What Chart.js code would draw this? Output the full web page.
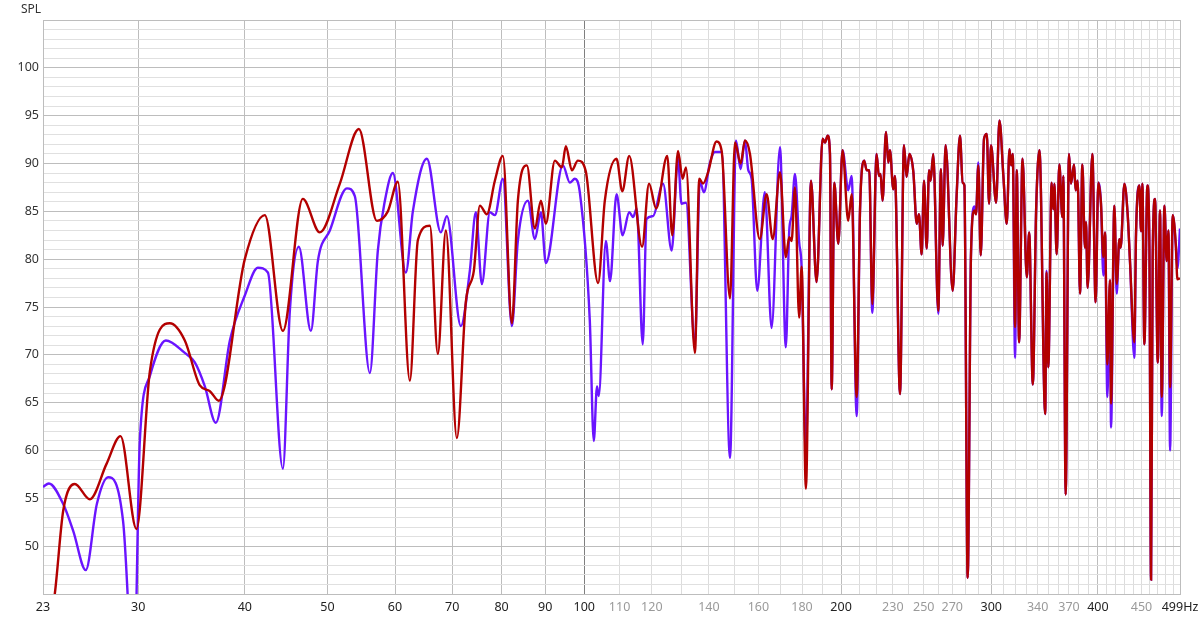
<!DOCTYPE html>
<html>
<head>
<meta charset="utf-8">
<script src="https://cdn.jsdelivr.net/npm/chart.js@4/dist/chart.umd.min.js"></script>
<style>
  html, body { margin: 0; padding: 0; background: #fff; }
  #wrap { width: 1200px; height: 619px; }
</style>
</head>
<body>
<div id="wrap"><canvas id="spl"></canvas></div>
<script>
// frequency axis (Hz)
const xMin = 23.2;
const xMax = 499.3;
const xGridValues = [30, 40, 50, 60, 70, 80, 90, 100, 110, 120, 130, 140, 150, 160, 170, 180, 190,
    200, 210, 220, 230, 240, 250, 260, 270, 280, 290, 300, 310, 320, 330, 340, 350, 360, 370, 380, 390,
    400, 410, 420, 430, 440, 450, 460, 470, 480, 490];
const xMainLabels = [30, 40, 50, 60, 70, 80, 90, 100, 200, 300, 400];
const xMinorLabels = [110, 120, 140, 160, 180, 230, 250, 270, 340, 370, 450];

// SPL axis (dB)
const yMin = 45;
const yMax = 105;
const yLabels = [50, 55, 60, 65, 70, 75, 80, 85, 90, 95, 100];

// red trace, below 170 Hz
const freqRedLow = [23.2, 23.95, 24.50, 25.28, 26.33, 27.54, 28.60, 29.86, 30.96, 32.67,
    34.02, 35.43, 36.40, 37.29, 40.00, 42.22, 44.33, 46.78, 48.98, 51.70,
    54.42, 57.13, 58.85, 60.46, 62.45, 63.82, 65.92, 67.35, 68.83, 70.90,
    72.65, 74.23, 75.44, 76.88, 78.56, 80.28, 82.25, 83.59, 85.65, 87.52,
    88.95, 90.15, 92.37, 94.13, 95.15, 96.71, 98.29, 100.4, 103.8, 105.7,
    109.1, 110.8, 112.9, 116.9, 119.1, 121.4, 125.1, 126.8, 128.8, 130.4,
    131.6, 134.8, 136.4, 137.8, 139.7, 142.9, 144.9, 148.2, 150.2, 152.5,
    154.3, 156.4, 160.6, 163.6, 166.3];
const splRedLow = [38, 45, 53.7, 56.5, 54.9, 58.6, 61.5, 51.8, 68.3, 73.3,
    71.5, 66.8, 66.2, 65.2, 80.0, 84.6, 72.5, 86.3, 82.8, 87.9,
    93.6, 84.0, 85.0, 88.1, 67.3, 82.0, 83.5, 70.1, 83.0, 61.3,
    75.6, 78.8, 85.6, 84.7, 88.2, 90.8, 73.3, 86.1, 89.8, 83.2,
    86.1, 83.7, 90.3, 89.6, 91.8, 89.3, 90.3, 89.2, 77.5, 86.1,
    90.5, 87.1, 90.8, 81.3, 87.9, 85.3, 90.8, 82.5, 91.3, 88.4,
    89.6, 70.2, 88.4, 87.9, 89.1, 92.3, 91.3, 75.9, 92.2, 90.0,
    92.4, 91.0, 82.1, 86.8, 82.1];

// purple trace, below 170 Hz
const freqPurpleLow = [23.2, 23.57, 24.50, 25.17, 26.04, 26.83, 27.66, 28.80, 29.66, 30.13,
    30.96, 32.32, 34.02, 34.95, 35.91, 36.99, 38.42, 40.00, 41.43, 42.57,
    44.33, 45.17, 46.28, 47.81, 48.72, 50.32, 52.69, 53.83, 56.06, 57.28,
    58.38, 59.65, 61.78, 62.96, 65.39, 67.90, 69.01, 71.67, 73.43, 74.63,
    75.85, 77.51, 78.56, 80.28, 82.25, 83.59, 85.88, 87.52, 88.95, 90.15,
    94.39, 96.19, 97.49, 98.8, 101.5, 102.6, 103.5, 104.0, 106.0, 107.2,
    109.1, 110.9, 112.9, 114.1, 115.2, 117.1, 118.3, 120.4, 123.7, 126.6,
    128.8, 130.0, 131.6, 134.8, 136.6, 138.1, 140.4, 142.3, 144.9, 148.2,
    150.6, 152.5, 154.3, 155.7, 157.1, 159.5, 162.8, 165.8];
const splPurpleLow = [56.2, 56.55, 54.4, 51.6, 47.5, 54.4, 57.2, 52.6, 36, 61,
    67.8, 71.5, 70.2, 69.2, 66.7, 62.9, 71.5, 76.2, 79.1, 78.6,
    58.1, 74.6, 81.3, 72.5, 79.8, 83.0, 87.4, 86.6, 68.1, 80.9,
    86.1, 89.0, 78.6, 85.0, 90.5, 82.8, 84.5, 73.0, 78.8, 84.9,
    77.4, 84.9, 84.6, 88.4, 73.0, 81.9, 86.1, 82.1, 84.9, 79.6,
    89.8, 88.0, 88.4, 87.0, 73.6, 61.0, 66.7, 65.7, 81.9, 77.7,
    86.8, 82.5, 84.9, 84.4, 85.3, 71.1, 84.2, 84.5, 87.9, 80.9,
    90.5, 85.8, 85.9, 71.1, 88.2, 87.0, 90.1, 91.2, 91.2, 59.2,
    92.4, 89.4, 92.4, 89.3, 88.4, 76.7, 87.0, 72.8];

// both traces above 170 Hz share the same frequencies
const freqHigh = [169.6, 172.3, 173.9, 175.0, 176.6, 178.6, 179.8, 181.9, 184.4, 187.2,
    190.3, 191.5, 192.9, 194.1, 195.0, 196.4, 198.5, 200.8, 203.9, 205.8,
    208.6, 210.5, 212.9, 214.3, 215.8, 217.6, 220.1, 221.5, 222.5, 223.7,
    225.8, 227.2, 228.2, 230.3, 231.3, 234.5, 237.0, 238.7, 240.5, 243.1,
    245.3, 246.8, 248.6, 250.2, 252.0, 253.6, 254.7, 256.5, 260.0, 261.9,
    263.1, 265.2, 270.3, 273.2, 275.7, 277.7, 279.0, 281.5, 284.0, 286.6,
    287.9, 289.7, 291.6, 294.2, 296.4, 298.2, 299.8, 303.9, 306.7, 310.0,
    312.8, 315.1, 316.5, 317.9, 319.9, 321.4, 323.4, 326.4, 330.2, 332.3,
    335.6, 338.6, 341.7, 347.0, 348.3, 349.9, 353.1, 354.7, 355.7, 357.9,
    360.5, 363.4, 364.4, 366.7, 370.0, 372.0, 375.1, 376.7, 378.8, 381.2,
    383.6, 386.3, 387.4, 389.1, 394.1, 397.6, 400.5, 403.4, 406.0, 407.8,
    410.4, 413.3, 414.5, 418.2, 420.9, 423.9, 425.4, 429.7, 433.5, 436.3,
    441.4, 443.4, 447.4, 449.5, 451.1, 453.5, 457.2, 459.7, 461.8, 463.8,
    466.8, 470.2, 473.1, 475.3, 478.7, 481.7, 483.9, 486.1, 489.6, 493.6,
    495.8, 499.3];
const splRedHigh = [89.1, 80.2, 82.3, 81.9, 87.5, 73.9, 79.2, 56.0, 88.2, 77.6,
    92.6, 92.2, 92.9, 91.0, 66.4, 88.0, 81.6, 91.4, 84.0, 86.8,
    65.6, 85.1, 90.3, 89.3, 89.3, 75.3, 91.0, 88.7, 88.9, 86.1,
    93.3, 90.1, 91.4, 87.3, 88.7, 65.9, 91.9, 88.6, 91.0, 89.1,
    83.7, 84.7, 80.5, 88.2, 81.1, 89.3, 88.2, 91.0, 74.6, 89.4,
    81.4, 91.9, 76.7, 86.6, 92.9, 88.0, 87.7, 46.7, 80.4, 85.1,
    84.7, 89.8, 80.4, 92.6, 93.1, 85.8, 91.9, 85.9, 94.5, 88.6,
    83.7, 91.5, 89.8, 91.0, 72.9, 89.3, 71.3, 90.5, 78.1, 82.8,
    66.9, 85.1, 91.4, 63.8, 78.6, 68.7, 88.0, 85.2, 87.9, 80.5,
    89.9, 84.4, 88.7, 55.4, 91.0, 87.9, 89.9, 87.2, 88.2, 76.4,
    89.9, 81.2, 83.9, 77.0, 91.0, 75.5, 88.0, 85.8, 80.2, 82.8,
    69.0, 77.8, 64.9, 85.6, 77.4, 82.1, 81.2, 87.9, 84.7, 79.7,
    71.3, 82.6, 87.7, 82.9, 87.9, 71.1, 87.7, 81.4, 46.5, 80.2,
    86.3, 69.2, 85.1, 65.6, 85.6, 79.8, 83.0, 66.6, 84.6, 81.6,
    77.9, 78.0];
const splPurpleHigh = [91.7, 70.8, 83.0, 84.5, 88.9, 81.8, 79.1, 60.0, 88.2, 77.6,
    92.6, 92.2, 92.9, 91.0, 66.4, 88.0, 81.6, 91.4, 87.2, 88.7,
    63.6, 85.1, 90.3, 89.3, 89.3, 74.4, 91.0, 88.7, 88.9, 86.1,
    93.3, 90.1, 91.4, 87.3, 88.7, 65.9, 91.9, 88.6, 91.0, 89.1,
    83.7, 84.7, 80.5, 88.2, 81.1, 89.3, 88.2, 91.0, 74.3, 89.4,
    81.4, 91.9, 76.7, 86.6, 92.9, 88.0, 87.7, 46.7, 80.4, 85.5,
    84.7, 90.1, 80.4, 92.6, 93.1, 85.8, 91.9, 85.9, 94.5, 88.6,
    83.7, 91.5, 89.8, 91.0, 69.7, 89.3, 71.3, 90.5, 78.1, 82.8,
    66.9, 85.1, 91.4, 63.8, 78.8, 68.7, 88.0, 85.2, 87.9, 80.5,
    89.9, 84.4, 88.7, 55.4, 91.0, 87.9, 89.9, 87.2, 88.2, 76.4,
    89.9, 81.2, 83.9, 77.0, 91.0, 75.5, 88.0, 85.8, 78.3, 82.8,
    65.6, 77.8, 62.4, 85.6, 76.4, 82.1, 81.2, 87.9, 84.7, 79.7,
    69.7, 82.6, 87.7, 82.9, 87.9, 71.1, 87.7, 81.4, 46.5, 80.2,
    86.3, 69.2, 85.1, 63.6, 85.6, 79.8, 83.0, 60.0, 84.6, 81.6,
    79.0, 83.2];

function toPoints(freqs, vals) {
    return freqs.map((f, i) => ({ x: f, y: vals[i] }));
}

const redPoints = toPoints(freqRedLow, splRedLow).concat(toPoints(freqHigh, splRedHigh));
const purplePoints = toPoints(freqPurpleLow, splPurpleLow).concat(toPoints(freqHigh, splPurpleHigh));

const fontFamily = '"Noto Sans", "Open Sans", sans-serif';

// small "SPL" caption above the y axis
const axisCaption = {
    id: 'axisCaption',
    afterDraw(chart) {
        const ctx = chart.ctx;
        ctx.save();
        ctx.font = '12px ' + fontFamily;
        ctx.fillStyle = '#333';
        ctx.textAlign = 'left';
        ctx.textBaseline = 'middle';
        ctx.fillText('SPL', 21, 10);
        ctx.restore();
    }
};

new Chart(document.getElementById('spl'), {
    type: 'line',
    data: {
        datasets: [{
            label: 'red',
            data: redPoints,
            borderColor: '#b30000',
            borderWidth: 2.4,
            pointRadius: 0,
            cubicInterpolationMode: 'monotone',
        }, {
            label: 'purple',
            data: purplePoints,
            borderColor: '#6a14ff',
            borderWidth: 2.4,
            pointRadius: 0,
            cubicInterpolationMode: 'monotone',
        }]
    },
    options: {
        responsive: true,
        maintainAspectRatio: false,
        animation: false,
        events: [],
        layout: { padding: { top: 20, right: 20, left: 0, bottom: 0 } },
        plugins: {
            legend: { display: false },
            tooltip: { enabled: false },
        },
        scales: {
            x: {
                type: 'logarithmic',
                min: xMin,
                max: xMax,
                afterBuildTicks: (scale) => {
                    scale.ticks = [xMin].concat(xGridValues, [xMax]).map(v => ({ value: v }));
                },
                afterFit: (scale) => {
                    scale.height = 25;
                    scale.paddingRight = 20;
                    scale.paddingLeft = 0;
                },
                border: { color: '#bdbdbd' },
                grid: {
                    drawTicks: false,
                    color: (ctx) => {
                        const v = ctx.tick ? ctx.tick.value : 0;
                        if (v === 100) return '#7f7f7f';
                        if (v < 100 || v === 200 || v === 300 || v === 400 || v === xMax) return '#bdbdbd';
                        return '#dcdcdc';
                    },
                },
                ticks: {
                    autoSkip: false,
                    maxRotation: 0,
                    padding: 6,
                    font: { family: fontFamily, size: 12.5 },
                    color: (ctx) => {
                        const v = ctx.tick ? ctx.tick.value : 0;
                        return xMinorLabels.includes(v) ? '#9a9a9a' : '#222';
                    },
                    callback: (value) => {
                        if (value === xMin) return '23';
                        if (value === xMax) return '499Hz';
                        if (xMainLabels.includes(value) || xMinorLabels.includes(value)) return String(value);
                        return '';
                    },
                },
            },
            y: {
                min: yMin,
                max: yMax,
                afterFit: (scale) => {
                    scale.width = 43;
                    scale.paddingTop = 0;
                    scale.paddingBottom = 0;
                },
                border: { color: '#bdbdbd' },
                grid: {
                    drawTicks: false,
                    color: (ctx) => {
                        const v = ctx.tick ? ctx.tick.value : 0;
                        return v % 5 === 0 ? '#bdbdbd' : '#e0e0e0';
                    },
                },
                ticks: {
                    stepSize: 1,
                    autoSkip: false,
                    padding: 4,
                    font: { family: fontFamily, size: 12.5 },
                    color: '#333',
                    callback: (value) => yLabels.includes(value) ? String(value) : '',
                },
            },
        },
    },
    plugins: [axisCaption],
});
</script>
</body>
</html>
